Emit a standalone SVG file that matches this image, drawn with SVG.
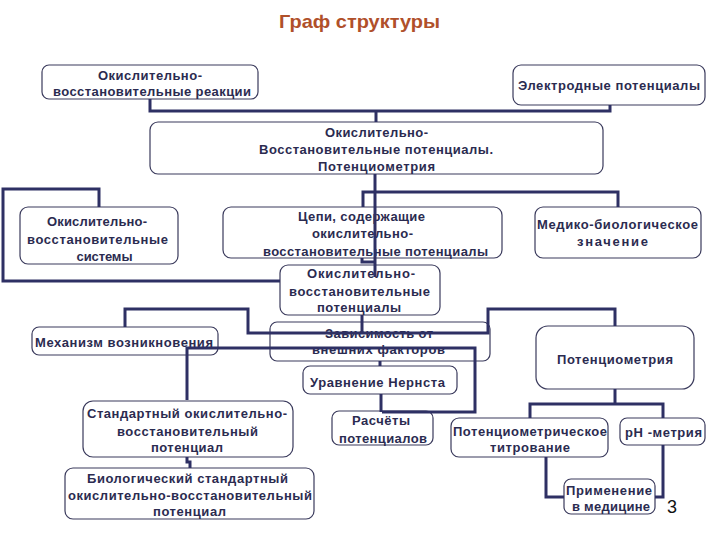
<svg xmlns="http://www.w3.org/2000/svg" width="720" height="540" viewBox="0 0 720 540">
<style>
.n rect{fill:#fff;stroke:#3a3a5c;stroke-width:1.2}
.n text{font-family:"Liberation Sans",Arial,sans-serif;font-weight:bold;font-size:13px;fill:#2b2b50;text-anchor:middle}
.c polyline,.c line{fill:none;stroke:#2e3064;stroke-width:3}
.title{font-family:"Liberation Sans",Arial,sans-serif;font-weight:bold;font-size:19px;fill:#b0502a;text-anchor:middle}
.pg{font-family:"Liberation Sans",Arial,sans-serif;font-size:18px;fill:#111}
</style>
<rect width="720" height="540" fill="#fff"/>
<text class="title" x="359.5" y="28" textLength="161" lengthAdjust="spacingAndGlyphs">Граф структуры</text>

<g id="n1" class="n"><rect x="42" y="65" width="216" height="34" rx="7"/>
<text x="150" y="80" textLength="104">Окислительно-</text>
<text x="152" y="96" textLength="198">восстановительные реакции</text></g>

<g id="n2" class="n"><rect x="513" y="65" width="192" height="40" rx="8"/>
<text x="609" y="90" textLength="182">Электродные потенциалы</text></g>

<g id="n3" class="n"><rect x="150" y="122" width="453" height="52" rx="8"/>
<text x="376.5" y="137" textLength="103">Окислительно-</text>
<text x="376" y="154" textLength="234">Восстановительные потенциалы.</text>
<text x="376.5" y="171" textLength="117">Потенциометрия</text></g>

<g id="n4" class="n"><rect x="20" y="207" width="158" height="57" rx="8"/>
<text x="97" y="226" textLength="100">Окислительно-</text>
<text x="97.5" y="244" textLength="141">восстановительные</text>
<text x="104.5" y="261" textLength="56">системы</text></g>

<g id="n5" class="n"><rect x="223" y="207" width="279" height="51" rx="8"/>
<text x="361.5" y="221" textLength="127">Цепи, содержащие</text>
<text x="362.5" y="238" textLength="101">окислительно-</text>
<text x="375.5" y="256" textLength="225">восстановительные потенциалы</text></g>

<g id="n6" class="n"><rect x="535" y="207" width="166" height="51" rx="8"/>
<text x="617.5" y="229" textLength="161">Медико-биологическое</text>
<text x="612.5" y="246" textLength="71">значение</text></g>

<g id="n7" class="n"><rect x="280" y="265" width="160" height="50" rx="8"/>
<text x="361" y="278" textLength="108">Окислительно-</text>
<text x="359.5" y="296" textLength="141">восстановительные</text>
<text x="359" y="312" textLength="84">потенциалы</text></g>

<g id="n8" class="n"><rect x="32" y="327" width="186" height="28" rx="7"/>
<text x="124" y="347" textLength="178">Механизм возникновения</text></g>

<g id="n9" class="n"><rect x="270" y="322" width="220" height="39" rx="7"/>
<text x="379" y="338" textLength="108">Зависимость от</text>
<text x="378.5" y="354" textLength="133">внешних факторов</text></g>

<g id="n10" class="n"><rect x="303" y="366" width="154" height="28" rx="7"/>
<text x="377.5" y="387" textLength="135">Уравнение Нернста</text></g>

<g id="n11" class="n"><rect x="536" y="326" width="158" height="63" rx="12"/>
<text x="615" y="364" textLength="116">Потенциометрия</text></g>

<g id="n12" class="n"><rect x="83" y="401" width="210" height="56" rx="10"/>
<text x="187" y="418" textLength="200">Стандартный окислительно-</text>
<text x="187.5" y="436" textLength="141">восстановительный</text>
<text x="187" y="452" textLength="72">потенциал</text></g>

<g id="n13" class="n"><rect x="65" y="468" width="249" height="51" rx="8"/>
<text x="187.5" y="483" textLength="201">Биологический стандартный</text>
<text x="190" y="500" textLength="244">окислительно-восстановительный</text>
<text x="189.5" y="516" textLength="73">потенциал</text></g>

<g id="n14" class="n"><rect x="332" y="411" width="101" height="34" rx="7"/>
<text x="381" y="425" textLength="58">Расчёты</text>
<text x="383" y="443" textLength="88">потенциалов</text></g>

<g id="n15" class="n"><rect x="451" y="418" width="157" height="39" rx="8"/>
<text x="530" y="436" textLength="154">Потенциометрическое</text>
<text x="530" y="452" textLength="80">титрование</text></g>

<g id="n16" class="n"><rect x="620" y="418" width="85" height="27" rx="7"/>
<text x="663.5" y="437" textLength="77">pH -метрия</text></g>

<g id="n17" class="n"><rect x="564" y="479" width="91" height="35" rx="7"/>
<text x="609" y="495" textLength="86">Применение</text>
<text x="611" y="511" textLength="78">в медицине</text></g>

<g id="connectors" class="c">
<polyline points="150,99 150,111 610,111 610,105"/>
<line x1="376" y1="111" x2="376" y2="122"/>
<line x1="375" y1="174" x2="375" y2="277"/>
<polyline points="363,207 363,192 618,192 618,207"/>
<polyline points="280,281 3,281 3,189 99,189 99,207"/>
<polyline points="362,258 362,262 375,262"/>
<line x1="362" y1="315" x2="362" y2="333"/>
<polyline points="125,327 125,309 248,309 248,333 488,333 488,309 615,309 615,326"/>
<polyline points="187,400 187,348 475,348 475,412 382,412"/>
<line x1="380" y1="361" x2="380" y2="366"/>
<line x1="381" y1="394" x2="381" y2="412"/>
<polyline points="187,457 187,462 190,462 190,468"/>
<polyline points="615,389 615,404"/>
<polyline points="530,418 530,404 663,404 663,418"/>
<polyline points="546,457 546,497 564,497"/>
<polyline points="663,445 663,497 655,497"/>
</g>
<text class="pg" x="667" y="513">3</text>
</svg>
